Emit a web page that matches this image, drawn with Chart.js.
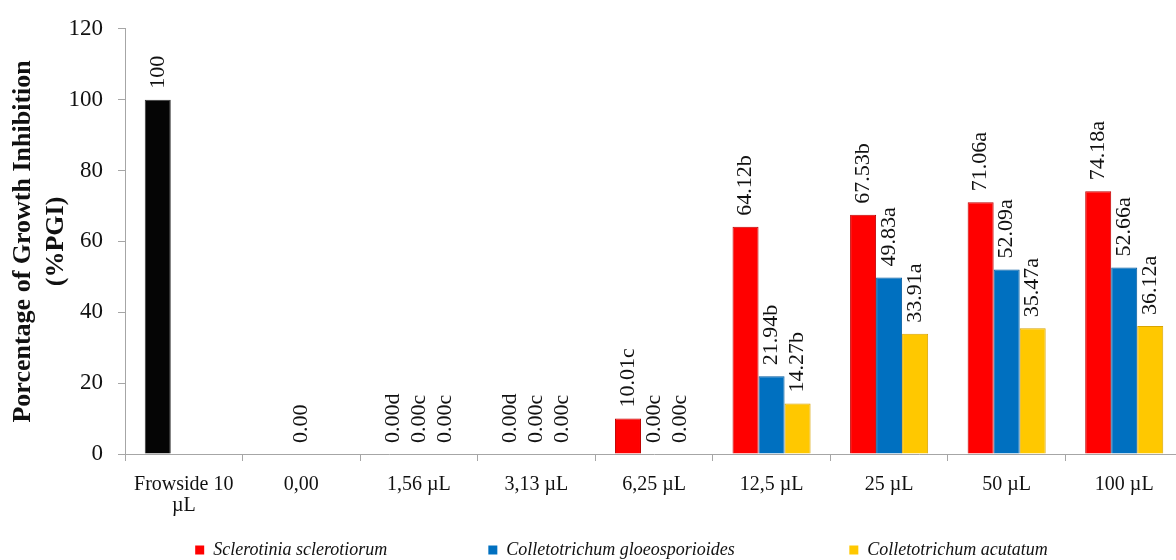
<!DOCTYPE html>
<html>
<head>
<meta charset="utf-8">
<script src="https://cdn.jsdelivr.net/npm/chart.js@4/dist/chart.umd.min.js"></script>
<style>
  html, body { margin: 0; padding: 0; background: #fff; overflow: hidden; }
  #wrap { width: 1243px; height: 560px; }
</style>
</head>
<body>
<div id="wrap"><canvas id="chart" width="1243" height="560"></canvas></div>
<script>
const categories = [["Frowside 10", "µL"], "0,00", "1,56 µL", "3,13 µL", "6,25 µL", "12,5 µL", "25 µL", "50 µL", "100 µL"];
const seriesNames = ["Sclerotinia sclerotiorum", "Colletotrichum gloeosporioides", "Colletotrichum acutatum"];
const sclerotinia = [100, null, 0, 0, 10.01, 64.12, 67.53, 71.06, 74.18];
const gloeosporioides = [null, 0, 0, 0, 0, 21.94, 49.83, 52.09, 52.66];
const acutatum = [null, null, 0, 0, 0, 14.27, 33.91, 35.47, 36.12];
const sclerotiniaLetters = ["", "", "d", "d", "c", "b", "b", "a", "a"];
const gloeoLetters = ["", "", "c", "c", "c", "b", "a", "a", "a"];
const acutatumLetters = ["", "", "c", "c", "c", "b", "a", "a", "a"];
const yTicks = [0, 20, 40, 60, 80, 100, 120];

const serif = "'Liberation Serif', 'Times New Roman', serif";
const red = "#FF0000", blue = "#0070C0", yellow = "#FFC800", black = "#050505";
const axisGray = "#A6A6A6";

function valueLabel(v, letter) {
  if (v === null || v === undefined) return "";
  if (Number.isInteger(v) && v !== 0) return String(v);
  return v.toFixed(2) + letter;
}

// rotated value labels above each bar
const barLabels = {
  id: "barLabels",
  afterDatasetsDraw(chart) {
    const ctx = chart.ctx;
    ctx.save();
    ctx.font = "22px " + serif;
    ctx.fillStyle = "#111";
    ctx.textAlign = "left";
    ctx.textBaseline = "middle";
    chart.data.datasets.forEach((ds, di) => {
      chart.getDatasetMeta(di).data.forEach((bar, i) => {
        const txt = valueLabel(ds.data[i], ds.letters[i]);
        if (!txt) return;
        ctx.save();
        ctx.translate(bar.x, bar.y - 11);
        ctx.rotate(-Math.PI / 2);
        ctx.fillText(txt, 0, 0);
        ctx.restore();
      });
    });
    ctx.restore();
  }
};

const legendPad = [" ".repeat(22), " ".repeat(25), ""];
const legendColors = [red, blue, yellow];

new Chart(document.getElementById("chart"), {
  type: "bar",
  data: {
    labels: categories,
    datasets: [
      { label: seriesNames[0], data: sclerotinia, letters: sclerotiniaLetters,
        backgroundColor: c => c.dataIndex === 0 ? black : red,
        borderColor: c => c.dataIndex === 0 ? "#333" : "#C00000", borderWidth: 1 },
      { label: seriesNames[1], data: gloeosporioides, letters: gloeoLetters,
        backgroundColor: blue, borderColor: "#005A9E", borderWidth: 1 },
      { label: seriesNames[2], data: acutatum, letters: acutatumLetters,
        backgroundColor: yellow, borderColor: "#D9A400", borderWidth: 1 }
    ]
  },
  options: {
    responsive: false,
    animation: false,
    devicePixelRatio: 1,
    layout: { padding: { top: 25, right: 0, bottom: -9, left: 0 } },
    datasets: { bar: { barPercentage: 1, categoryPercentage: 0.664 } },
    scales: {
      x: {
        afterFit: s => { s.height += 10; },
        grid: { display: true, drawOnChartArea: false, drawTicks: true, tickLength: 7, color: axisGray, offset: true },
        border: { color: axisGray },
        ticks: { color: "#111", font: { family: serif, size: 20, lineHeight: 1.05 }, padding: 13, maxRotation: 0, autoSkip: false }
      },
      y: {
        min: 0, max: 120,
        afterBuildTicks: s => { s.ticks = yTicks.map(v => ({ value: v })); },
        afterFit: s => { s.width = 125; },
        grid: { display: true, drawOnChartArea: false, drawTicks: true, tickLength: 7, color: axisGray },
        border: { color: axisGray },
        ticks: { color: "#111", font: { family: serif, size: 23 }, padding: 15 },
        title: {
          display: true,
          text: ["Porcentage of Growth Inhibition", "(%PGI)"],
          color: "#111",
          font: { family: serif, size: 26, weight: "bold", lineHeight: 1.3 },
          padding: { top: 6, bottom: 0 }
        }
      },
      // empty space on the right so the plot runs past the visible edge
      spacer: {
        type: "linear", position: "right", display: true,
        afterFit: s => { s.width = 60; },
        grid: { display: false }, border: { display: false }, ticks: { display: false }
      }
    },
    plugins: {
      tooltip: { enabled: false },
      legend: {
        position: "bottom",
        labels: {
          color: "#111",
          font: { family: serif, size: 18, style: "italic" },
          boxWidth: 9, boxHeight: 9, padding: 2,
          generateLabels(chart) {
            return Chart.defaults.plugins.legend.labels.generateLabels(chart).map((item, i) => {
              item.text = item.text + legendPad[i];
              item.fillStyle = legendColors[i];
              item.strokeStyle = legendColors[i];
              item.lineWidth = 0;
              return item;
            });
          }
        }
      }
    }
  },
  plugins: [barLabels]
});
</script>
</body>
</html>
